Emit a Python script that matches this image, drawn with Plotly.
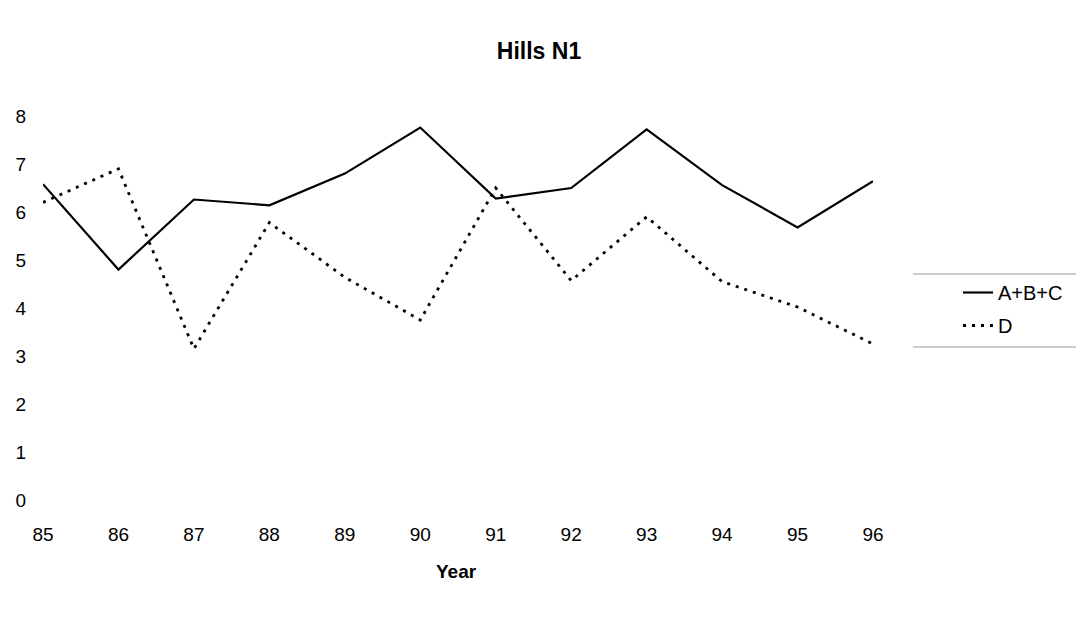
import plotly.graph_objects as go

years = [85, 86, 87, 88, 89, 90, 91, 92, 93, 94, 95, 96]
tick_labels = ["85", "86", "87", "88", "89", "90", "91", "92", "93", "94", "95", "96"]
abc_values = [6.58, 4.8, 6.26, 6.14, 6.8, 7.76, 6.28, 6.5, 7.72, 6.56, 5.68, 6.64]
d_values = [6.2, 6.9, 3.15, 5.78, 4.64, 3.75, 6.5, 4.57, 5.9, 4.55, 4.02, 3.25]
y_ticks = [0, 1, 2, 3, 4, 5, 6, 7, 8]

FONT = "Liberation Sans, Arial, sans-serif"

fig = go.Figure()
fig.add_trace(go.Scatter(
    x=years, y=abc_values, mode="lines", name="A+B+C",
    line=dict(color="black", width=2.2), legendgroup="a"))
fig.add_trace(go.Scatter(
    x=years, y=d_values, mode="lines", name="D",
    line=dict(color="black", width=2.8, dash="3px,6px"), legendgroup="b"))

L, R, T, B = 43, 873, 116, 500
W, H = 1087, 619

def px_x(p):
    return (p - L) / (R - L)

def px_y(p):
    return (B - p) / (B - T)

fig.update_layout(
    width=W, height=H,
    margin=dict(l=L, r=W - R, t=T, b=H - B, autoexpand=False),
    paper_bgcolor="white", plot_bgcolor="white",
    font=dict(family=FONT, size=19, color="black"),
    title=dict(text="<b>Hills N1</b>", x=539 / W, xref="container", xanchor="center",
               y=1 - 51 / H, yref="container", yanchor="middle",
               font=dict(family=FONT, size=23, color="black")),
    xaxis=dict(range=[85, 96], tickmode="array", tickvals=years, ticktext=tick_labels,
               showgrid=False, zeroline=False, showline=False, ticks="",
               ticklabelstandoff=21, tickfont=dict(size=19)),
    yaxis=dict(range=[0, 8], tickmode="array", tickvals=y_ticks,
               showgrid=False, zeroline=False, showline=False, ticks="",
               ticklabelstandoff=16, tickfont=dict(size=19)),
    legend=dict(x=px_x(958), y=px_y(273), xanchor="left", yanchor="top",
                bgcolor="rgba(0,0,0,0)", borderwidth=0, traceorder="grouped",
                tracegroupgap=4, font=dict(family=FONT, size=20, color="black")),
    showlegend=True,
)

fig.add_annotation(text="<b>Year</b>", x=px_x(456), xref="paper", y=px_y(571), yref="paper",
                   showarrow=False, xanchor="center", yanchor="middle",
                   font=dict(family=FONT, size=19, color="black"))

for py in (274, 347):
    fig.add_shape(type="line", xref="paper", yref="paper",
                  x0=px_x(913), x1=px_x(1076), y0=px_y(py), y1=px_y(py),
                  line=dict(color="#9a9a9a", width=1))

fig.write_html("out.html")
